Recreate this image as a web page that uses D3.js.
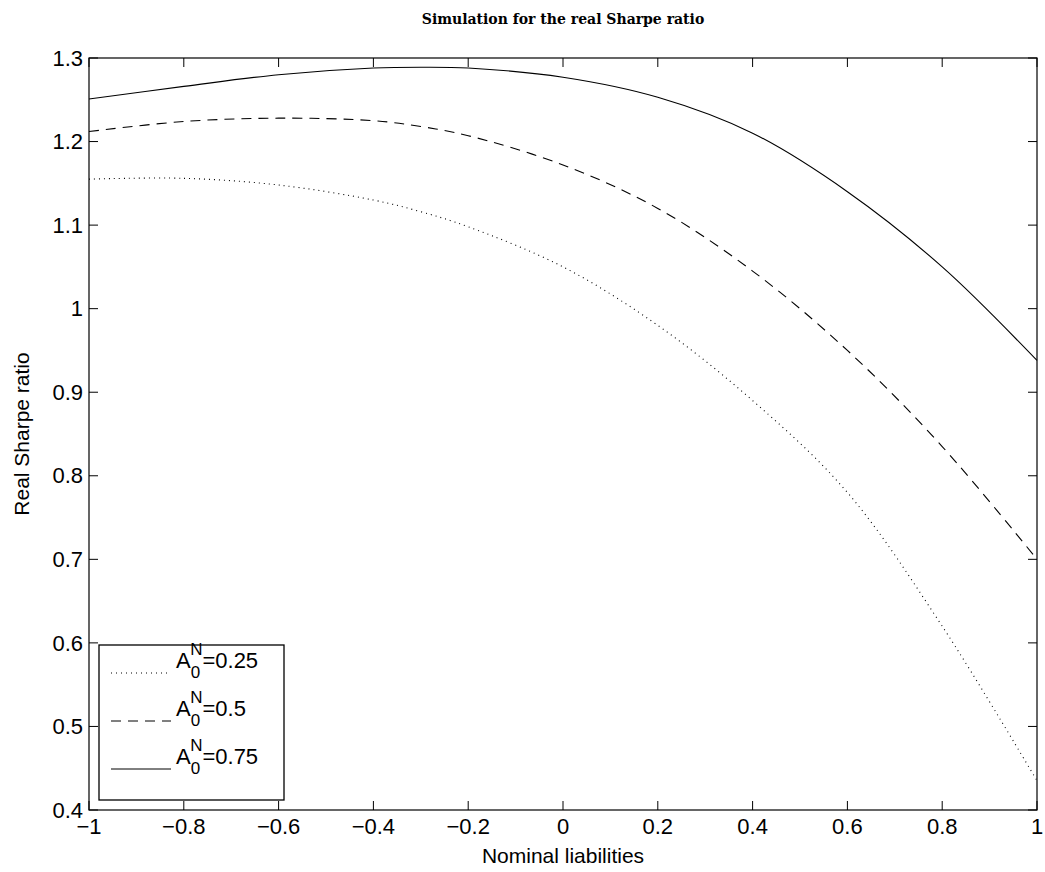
<!DOCTYPE html>
<html><head><meta charset="utf-8">
<script src="https://cdn.jsdelivr.net/npm/d3@7"></script>
<style>body{margin:0;background:#fff}text{font-family:"Liberation Sans",Arial,sans-serif}</style>
</head><body><svg id="chart"></svg>
<script>
var xVals = [-1, -0.8, -0.6, -0.4, -0.3, -0.2, 0, 0.2, 0.4, 0.6, 0.8, 1];
var solid  = [1.251, 1.266, 1.280, 1.288, 1.289, 1.288, 1.277, 1.253, 1.210, 1.140, 1.050, 0.938];
var dashed = [1.212, 1.224, 1.228, 1.225, 1.218, 1.207, 1.172, 1.120, 1.045, 0.950, 0.835, 0.700];
var dotted = [1.155, 1.156, 1.148, 1.130, 1.116, 1.098, 1.050, 0.980, 0.890, 0.780, 0.620, 0.435];
var xTicks = [-1, -0.8, -0.6, -0.4, -0.2, 0, 0.2, 0.4, 0.6, 0.8, 1];
var yTicks = [0.4, 0.5, 0.6, 0.7, 0.8, 0.9, 1, 1.1, 1.2, 1.3];
var series = [
  {name: "0.25", vals: dotted, dash: "1,4"},
  {name: "0.5", vals: dashed, dash: "10,7"},
  {name: "0.75", vals: solid, dash: null}
];

var width = 1045, height = 872;
var margin = {top: 58, right: 8, bottom: 62, left: 89};
var svg = d3.select('#chart').attr('width', width).attr('height', height);
var x = d3.scaleLinear().domain([-1, 1]).range([margin.left, width - margin.right]);
var y = d3.scaleLinear().domain([0.4, 1.3]).range([height - margin.bottom, margin.top]);

var g = svg.append('g');
function axes(){
  var L = x.range()[0], R = x.range()[1], T = y.range()[1], B = y.range()[0];
  g.append('rect').attr('x', L).attr('y', T).attr('width', R - L).attr('height', B - T)
    .attr('fill', 'none').attr('stroke', '#000').attr('stroke-width', 1.2);
  xTicks.forEach(t => {
    g.append('line').attr('x1', x(t)).attr('x2', x(t)).attr('y1', B).attr('y2', B - 9).attr('stroke', '#000');
    g.append('line').attr('x1', x(t)).attr('x2', x(t)).attr('y1', T).attr('y2', T + 9).attr('stroke', '#000');
    g.append('text').attr('x', x(t)).attr('y', B + 24).attr('text-anchor', 'middle')
      .attr('font-size', 22).text(t === 0 ? "0" : String(t).replace("-", "\u2212"));
  });
  yTicks.forEach(t => {
    g.append('line').attr('x1', L).attr('x2', L + 9).attr('y1', y(t)).attr('y2', y(t)).attr('stroke', '#000');
    g.append('line').attr('x1', R).attr('x2', R - 9).attr('y1', y(t)).attr('y2', y(t)).attr('stroke', '#000');
    g.append('text').attr('x', L - 6).attr('y', y(t)).attr('dy', '0.35em').attr('text-anchor', 'end')
      .attr('font-size', 22).text(String(t));
  });
}
axes();

var line = d3.line().x((d, i) => x(xVals[i])).y(d => y(d)).curve(d3.curveCatmullRom.alpha(0.5));
series.forEach(s => {
  g.append('path').attr('d', line(s.vals)).attr('fill', 'none').attr('stroke', '#000')
    .attr('stroke-width', 1.1).attr('stroke-dasharray', s.dash);
});

svg.append('text').attr('x', 563).attr('y', 24).attr('text-anchor', 'middle')
  .style('font-family', '"DejaVu Serif",serif').attr('font-weight', 'bold').attr('font-size', 14)
  .text('Simulation for the real Sharpe ratio');
svg.append('text').attr('x', 563).attr('y', 863).attr('text-anchor', 'middle').attr('font-size', 21)
  .text('Nominal liabilities');
svg.append('text').attr('transform', 'translate(29,' + ((margin.top + height - margin.bottom) / 2) + ') rotate(-90)')
  .attr('text-anchor', 'middle').attr('font-size', 21).text('Real Sharpe ratio');

var lg = svg.append('g');
lg.append('rect').attr('x', 99).attr('y', 645).attr('width', 185).attr('height', 155)
  .attr('fill', '#fff').attr('stroke', '#000').attr('stroke-width', 1.3);
series.forEach((s, i) => {
  var yy = 673 + i * 48;
  lg.append('line').attr('x1', 111).attr('x2', 171).attr('y1', yy).attr('y2', yy)
    .attr('stroke', '#000').attr('stroke-dasharray', s.dash);
  var t = lg.append('text').attr('x', 176).attr('y', yy - 5).attr('font-size', 22);
  t.append('tspan').text('A');
  t.append('tspan').attr('dy', 10).attr('font-size', 17).text('0');
  t.append('tspan').attr('dx', -10).attr('dy', -23).attr('font-size', 17).text('N');
  t.append('tspan').attr('dy', 13).text('=' + s.name);
});
</script></body></html>
